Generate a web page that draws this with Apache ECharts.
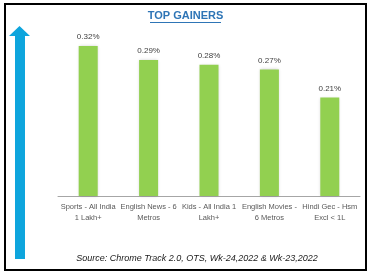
<!DOCTYPE html>
<html>
<head>
<meta charset="utf-8">
<script src="https://cdn.jsdelivr.net/npm/echarts@6/dist/echarts.min.js"></script>
<style>
html,body{margin:0;padding:0;background:#fff;}
#chart{width:374px;height:278px;}
</style>
</head>
<body>
<div id="chart"></div>
<script>
const categories = [
  "Sports - All India\n1 Lakh+",
  "English News - 6\nMetros",
  "Kids - All India 1\nLakh+",
  "English Movies -\n6 Metros",
  "Hindi Gec - Hsm\nExcl < 1L"
];
const values = [0.32, 0.29, 0.28, 0.27, 0.21];
const titleText = "TOP GAINERS";
const sourceText = "Source: Chrome Track 2.0, OTS, Wk-24,2022 & Wk-23,2022";

const chart = echarts.init(document.getElementById('chart'), null, {renderer: 'canvas'});
chart.setOption({
  animation: false,
  backgroundColor: '#fff',
  grid: {left: 58, right: 14, top: 32, bottom: 82, containLabel: false},
  xAxis: {
    type: 'category',
    data: categories,
    axisLine: {lineStyle: {color: '#A6A6A6', width: 1}},
    axisTick: {show: false},
    axisLabel: {
      interval: 0,
      color: '#595959',
      fontSize: 7.5,
      lineHeight: 11,
      margin: 5,
      fontFamily: 'Liberation Sans'
    }
  },
  yAxis: {
    type: 'value',
    min: 0,
    max: 0.35,
    show: false
  },
  series: [{
    type: 'bar',
    data: values,
    barWidth: 19,
    itemStyle: {
      color: '#92D050',
      shadowColor: 'rgba(0,0,0,0.18)',
      shadowBlur: 3
    },
    label: {
      show: true,
      position: 'top',
      distance: 5,
      color: '#404040',
      fontSize: 8,
      fontFamily: 'Liberation Sans',
      formatter: p => p.value.toFixed(2) + '%'
    }
  }],
  graphic: [
    {
      type: 'rect',
      shape: {x: 5, y: 4, width: 361, height: 266},
      style: {fill: 'none', stroke: '#000', lineWidth: 2},
      silent: true
    },
    {
      type: 'polygon',
      shape: {points: [[15, 259], [15, 36], [9, 36], [19.5, 26], [30, 36], [25, 36], [25, 259]]},
      style: {fill: '#0EA5DD'},
      silent: true
    },
    {
      type: 'text',
      x: 185.5,
      y: 16,
      style: {
        text: titleText,
        fill: '#2E75B6',
        fontSize: 11,
        fontWeight: 'bold',
        fontFamily: 'Liberation Sans',
        align: 'center',
        verticalAlign: 'middle'
      },
      silent: true
    },
    {
      type: 'rect',
      shape: {x: 150, y: 22, width: 71, height: 1},
      style: {fill: '#2E75B6'},
      silent: true
    },
    {
      type: 'text',
      x: 197,
      y: 258,
      style: {
        text: sourceText,
        fill: '#1a1a1a',
        fontSize: 9,
        fontStyle: 'italic',
        fontFamily: 'Liberation Sans',
        align: 'center',
        verticalAlign: 'middle'
      },
      silent: true
    }
  ]
});
</script>
</body>
</html>
